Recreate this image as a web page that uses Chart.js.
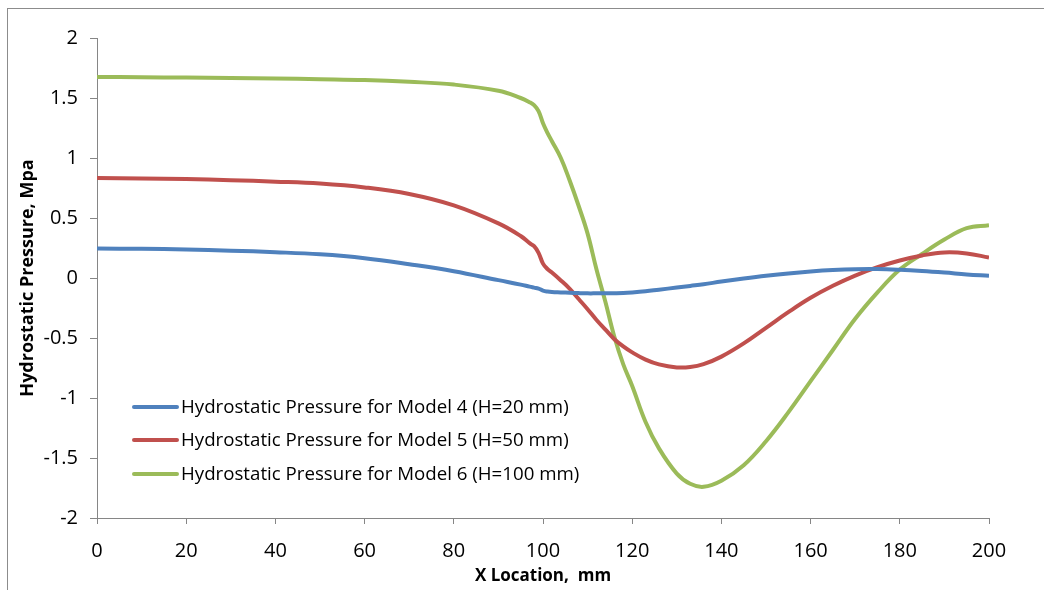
<!DOCTYPE html>
<html>
<head>
<meta charset="utf-8">
<script src="https://cdn.jsdelivr.net/npm/chart.js@4.4.1/dist/chart.umd.min.js"></script>
<style>
  body { margin: 0; background: #fff; overflow: hidden; }
  #wrap { position: relative; width: 1044px; height: 590px; }
  #frame { position: absolute; left: 7px; top: 8px; width: 1200px; height: 800px; border: 1px solid #8c8c8c; }
  canvas { position: absolute; left: 0; top: 0; }
</style>
</head>
<body>
<div id="wrap">
  <div id="frame"></div>
  <canvas id="chart" width="1044" height="590"></canvas>
</div>
<script>
const xLocation = [0, 10, 20, 30, 40, 50, 60, 70, 80, 90, 95, 97, 98, 99, 100, 101, 102, 104, 106, 108,
                   110, 112, 114, 116, 118, 120, 123, 126, 130, 133, 136, 140, 145, 150, 155, 160,
                   165, 170, 175, 180, 185, 190, 195, 200]

const model4 = [0.245, 0.243, 0.238, 0.228, 0.215, 0.197, 0.165, 0.115, 0.057, -0.018, -0.055, -0.072, -0.08, -0.088, -0.105, -0.113, -0.117, -0.12, -0.123, -0.126,
                -0.128, -0.128, -0.128, -0.127, -0.125, -0.12, -0.11, -0.097, -0.08, -0.066, -0.052, -0.03, -0.005, 0.018, 0.038, 0.054,
                0.066, 0.073, 0.074, 0.068, 0.058, 0.045, 0.03, 0.018]

const model5 = [0.833, 0.83, 0.825, 0.815, 0.803, 0.787, 0.755, 0.70, 0.605, 0.455, 0.35, 0.29, 0.265, 0.21, 0.12, 0.075, 0.045, -0.02, -0.09, -0.175,
                -0.26, -0.35, -0.43, -0.51, -0.57, -0.62, -0.68, -0.72, -0.745, -0.742, -0.718, -0.655, -0.545, -0.415, -0.285, -0.165,
                -0.065, 0.02, 0.09, 0.146, 0.188, 0.213, 0.205, 0.17]

const model6 = [1.675, 1.673, 1.67, 1.667, 1.663, 1.657, 1.65, 1.635, 1.612, 1.56, 1.50, 1.465, 1.44, 1.39, 1.29, 1.21, 1.14, 1.0, 0.81, 0.6,
                0.37, 0.07, -0.2, -0.49, -0.72, -0.9, -1.2, -1.42, -1.63, -1.715, -1.74, -1.69, -1.56, -1.36, -1.12, -0.86,
                -0.6, -0.34, -0.12, 0.07, 0.2, 0.32, 0.415, 0.44]

const seriesNames = ["Hydrostatic Pressure for Model 4 (H=20 mm)",
                     "Hydrostatic Pressure for Model 5 (H=50 mm)",
                     "Hydrostatic Pressure for Model 6 (H=100 mm)"]
const seriesColors = ["#4f81bd", "#c0504d", "#9bbb59"]

const FONT = "'Open Sans', sans-serif"
const AXIS = "#868686"

function points(values) {
    return values.map((v, i) => ({x: xLocation[i], y: v}))
}

// legend sits inside the plot, lower left
const insideLegend = {
    id: "insideLegend",
    afterDraw(chart) {
        const ctx = chart.ctx
        const area = chart.chartArea
        const rows = [area.bottom - 111, area.bottom - 78, area.bottom - 44]
        ctx.save()
        ctx.font = "18.7px " + FONT
        ctx.textBaseline = "middle"
        chart.data.datasets.forEach((ds, i) => {
            ctx.strokeStyle = ds.borderColor
            ctx.lineWidth = 4
            ctx.lineCap = "round"
            ctx.beginPath()
            ctx.moveTo(area.left + 37, rows[i])
            ctx.lineTo(area.left + 80, rows[i])
            ctx.stroke()
            ctx.fillStyle = "#000"
            ctx.fillText(ds.label, area.left + 84, rows[i] + 1)
        })
        ctx.restore()
    }
}

new Chart(document.getElementById("chart"), {
    type: "line",
    data: {
        datasets: [model4, model5, model6].map((vals, i) => ({
            label: seriesNames[i],
            data: points(vals),
            borderColor: seriesColors[i],
            backgroundColor: seriesColors[i],
            borderWidth: 4,
            pointRadius: 0,
            tension: 0.4,
            borderCapStyle: "butt"
        }))
    },
    options: {
        responsive: false,
        animation: false,
        events: [],
        layout: {padding: {top: 38, right: 55, left: 0, bottom: 0}},
        plugins: {
            legend: {display: false},
            tooltip: {enabled: false}
        },
        scales: {
            x: {
                type: "linear",
                min: 0,
                max: 200,
                ticks: {stepSize: 20, color: "#000", font: {family: FONT, size: 20}, padding: 15, maxRotation: 0},
                grid: {drawOnChartArea: false, color: AXIS, tickLength: 6},
                border: {color: AXIS, width: 1},
                title: {display: true, text: "X Location,  mm", color: "#000",
                        font: {family: FONT, size: 17, weight: "bold"}, padding: {top: 0}},
                afterFit(scale) { scale.height = 72 }
            },
            y: {
                min: -2,
                max: 2,
                ticks: {stepSize: 0.5, color: "#000", font: {family: FONT, size: 20}, padding: 12,
                        callback: v => String(v)},
                grid: {drawOnChartArea: false, color: AXIS, tickLength: 7},
                border: {color: AXIS, width: 1},
                title: {display: true, text: "Hydrostatic Pressure, Mpa", color: "#000",
                        font: {family: FONT, size: 18, weight: "bold"}, padding: {top: 17, bottom: 0}},
                afterFit(scale) { scale.width = 97 }
            }
        }
    },
    plugins: [insideLegend]
})
</script>
</body>
</html>
